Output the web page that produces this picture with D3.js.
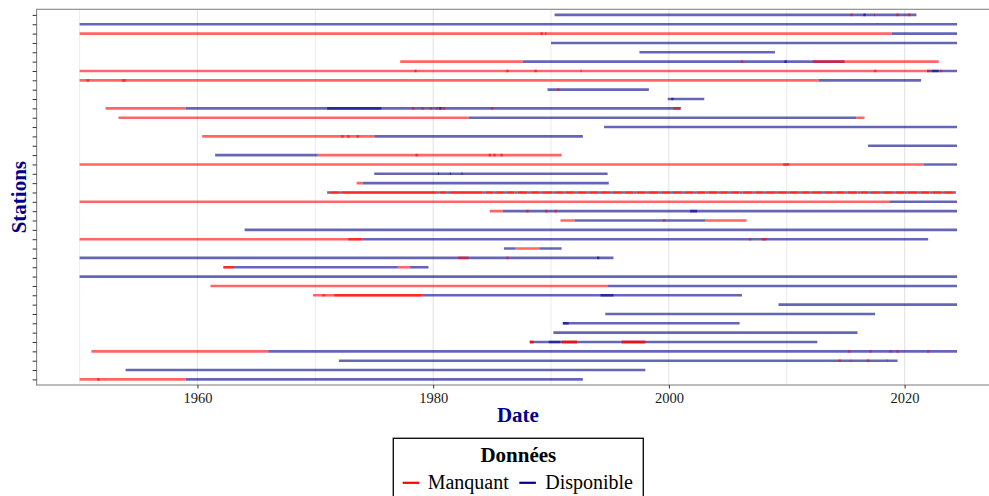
<!DOCTYPE html>
<html>
<head>
<meta charset="utf-8">
<script src="https://cdn.jsdelivr.net/npm/d3@7"></script>
<style>
  html, body { margin: 0; padding: 0; background: #fff; }
  svg { display: block; }
  text { font-family: "Liberation Serif", "Times New Roman", serif; }
</style>
</head>
<body>
<svg id="chart" width="989" height="496"></svg>
<script>
// Stations (top to bottom)
const stations = ["ST01","ST02","ST03","ST04","ST05","ST06","ST07","ST08","ST09","ST10",
                  "ST11","ST12","ST13","ST14","ST15","ST16","ST17","ST18","ST19","ST20",
                  "ST21","ST22","ST23","ST24","ST25","ST26","ST27","ST28","ST29","ST30",
                  "ST31","ST32","ST33","ST34","ST35","ST36","ST37","ST38","ST39","ST40"];

// Periods with data available: [station number, start year, end year]
const disponible = [
  [1, 1990.3, 2021.0], [1, 2016.5, 2016.7],
  [2, 1950.0, 2024.45],
  [3, 2018.9, 2024.45],
  [4, 1990.0, 2024.45],
  [5, 1997.5, 2009.0],
  [6, 1987.6, 2014.9], [6, 2009.8, 2010.0],
  [7, 2021.9, 2024.45], [7, 2022.3, 2022.9],
  [8, 2012.7, 2021.4],
  [9, 1989.7, 1998.3],
  [10, 1999.9, 2003.0], [10, 2000.2, 2000.4],
  [11, 1959.0, 2001.0], [11, 1971.0, 1975.6], [11, 1980.5, 1980.7],
  [12, 1983.0, 2015.9],
  [13, 1994.5, 2024.45],
  [14, 1975.0, 1992.7],
  [15, 2016.9, 2024.45],
  [16, 1961.5, 1970.2],
  [17, 2021.6, 2024.45],
  [18, 1975.0, 1994.8], [18, 1980.4, 1980.5], [18, 1981.4, 1981.5], [18, 1982.4, 1982.5],
  [19, 1974.0, 1994.9],
  [21, 2018.7, 2024.45],
  [22, 1985.9, 2024.45], [22, 2001.8, 2002.4],
  [23, 1992.0, 2003.1],
  [24, 1964.0, 2024.45],
  [25, 1974.0, 2022.0],
  [26, 1986.0, 1987.0], [26, 1989.0, 1990.9],
  [27, 1950.0, 1995.3], [27, 1993.9, 1994.1],
  [28, 1963.1, 1977.0], [28, 1978.0, 1979.6],
  [29, 1950.0, 2024.45],
  [30, 1994.8, 2024.45],
  [31, 1979.1, 2006.2], [31, 1994.2, 1995.3],
  [32, 2009.3, 2024.45],
  [33, 1994.6, 2017.5],
  [34, 1991.0, 2006.0], [34, 1991.0, 1991.5],
  [35, 1990.2, 2016.0],
  [36, 1988.2, 2012.6], [36, 1989.8, 1990.8],
  [37, 1966.0, 2024.45],
  [38, 1972.0, 2019.4],
  [39, 1953.9, 1998.0],
  [40, 1959.0, 1992.7]
];

// Periods with missing data: [station number, start year, end year]
const manquant = [
  [1, 2015.4, 2015.6], [1, 2017.4, 2017.5], [1, 2019.3, 2019.5], [1, 2020.3, 2020.5],
  [3, 1950.0, 2018.9], [3, 1989.1, 1989.3], [3, 1989.5, 1989.6],
  [6, 1977.2, 1987.6], [6, 2006.1, 2006.3], [6, 2012.2, 2022.9],
  [7, 1950.0, 2021.9], [7, 1978.4, 1978.6], [7, 1986.2, 1986.4], [7, 1988.6, 1988.8],
  [7, 1992.5, 1992.6], [7, 2017.4, 2017.6], [7, 2021.9, 2022.2], [7, 2023.0, 2023.2],
  [8, 1950.0, 2012.7], [8, 1950.6, 1950.8], [8, 1953.6, 1953.9],
  [9, 1990.5, 1990.7],
  [11, 1952.2, 1959.0], [11, 1978.2, 1978.4], [11, 1979.0, 1979.2], [11, 1979.7, 1979.9],
  [11, 1980.2, 1980.4], [11, 1980.8, 1981.0], [11, 1984.9, 1985.1], [11, 2000.4, 2001.0],
  [12, 1953.3, 1983.0], [12, 2015.9, 2016.6],
  [14, 1960.4, 1975.0], [14, 1972.2, 1972.4], [14, 1972.7, 1972.9], [14, 1973.5, 1973.7],
  [16, 1970.2, 1990.9], [16, 1978.5, 1978.7], [16, 1984.7, 1984.9], [16, 1985.1, 1985.3], [16, 1985.7, 1985.9],
  [17, 1950.0, 2021.6], [17, 2009.7, 2010.2],
  [19, 1973.5, 1974.0],
  [21, 1950.0, 2018.7],
  [22, 1984.8, 1985.9], [22, 1987.9, 1988.1], [22, 1989.5, 1989.7], [22, 1990.3, 1990.5],
  [23, 1990.8, 1992.0], [23, 1999.5, 1999.7], [23, 2003.1, 2006.6],
  [25, 1950.0, 1974.0], [25, 1972.8, 1974.0], [25, 2006.8, 2007.0], [25, 2007.9, 2008.3],
  [26, 1987.0, 1989.0],
  [27, 1982.1, 1983.0], [27, 1986.2, 1986.4],
  [28, 1962.2, 1963.1], [28, 1962.2, 1963.1], [28, 1977.0, 1978.0],
  [30, 1961.1, 1994.8],
  [31, 1969.8, 1979.1], [31, 1970.6, 1970.8], [31, 1971.6, 1979.1],
  [36, 1988.2, 1988.5], [36, 1988.2, 1988.5], [36, 1990.9, 1992.2], [36, 1990.9, 1992.2],
  [36, 1996.0, 1998.0], [36, 1996.0, 1998.0],
  [37, 1951.0, 1966.0], [37, 2015.2, 2015.4], [37, 2017.0, 2017.2], [37, 2018.7, 2018.9],
  [37, 2019.3, 2019.5], [37, 2021.9, 2022.1],
  [38, 2014.4, 2014.6], [38, 2015.4, 2015.5], [38, 2016.8, 2017.0], [38, 2018.5, 2018.6],
  [40, 1950.0, 1959.0], [40, 1951.5, 1951.7]
];

// Station 20: short yearly available windows (start years) inside a doubly-recorded missing series
const st20Station = 20;
const st20Windows = [1971.0, 1972.0, 1980.3, 1981.1, 1984.2, 1985.1, 1986.0, 1986.9, 1988.0,
  1989.0, 1990.1, 1991.0, 1992.0, 1993.0, 1994.0, 1995.0, 1996.0, 1997.0, 1998.0, 1999.1,
  2000.1, 2001.1, 2002.1, 2003.1, 2004.1, 2005.0, 2006.0, 2007.1, 2008.0, 2009.0, 2010.0,
  2011.0, 2011.9, 2013.0, 2013.9, 2014.9, 2016.0, 2016.9, 2017.9, 2019.0, 2020.0, 2021.1,
  2022.1, 2023.1, 2024.1];
const st20WindowLength = 0.25;
const st20Recordings = 2;

const xTicks = [1960, 1980, 2000, 2020];
const xMinorTicks = [1950, 1970, 1990, 2010];
const legendLabels = ["Manquant", "Disponible"];

// Build station 20 pieces from its windows
const st20Dispo = st20Windows.map(w => [st20Station, w, w + st20WindowLength]);
const st20Manq = [];
for (let i = 0; i < st20Windows.length - 1; i++) {
  for (let k = 0; k < st20Recordings; k++) {
    st20Manq.push([st20Station, st20Windows[i] + st20WindowLength, st20Windows[i + 1]]);
  }
}

const colors = { Manquant: "#ff0000", Disponible: "#00008b" };

const svg = d3.select("#chart");
svg.append("rect").attr("width", 989).attr("height", 496).attr("fill", "#fff");

const panel = { left: 36.6, top: 9.3, right: 1001.25, bottom: 385 };

const x = d3.scaleLinear().domain([1946.35, 2028.2]).range([panel.left, panel.right]);
const y = d3.scalePoint().domain(stations).range([panel.top, panel.bottom]).padding(0.6);

svg.append("clipPath").attr("id", "panelClip")
  .append("rect")
  .attr("x", panel.left).attr("y", panel.top)
  .attr("width", panel.right - panel.left).attr("height", panel.bottom - panel.top);

// vertical grid
const grid = svg.append("g");
grid.selectAll("line.minor").data(xMinorTicks).join("line")
  .attr("class", "minor")
  .attr("x1", d => x(d)).attr("x2", d => x(d))
  .attr("y1", panel.top).attr("y2", panel.bottom)
  .attr("stroke", "#ececec").attr("stroke-width", 1);
grid.selectAll("line.major").data(xTicks).join("line")
  .attr("class", "major")
  .attr("x1", d => x(d)).attr("x2", d => x(d))
  .attr("y1", panel.top).attr("y2", panel.bottom)
  .attr("stroke", "#e6e6e6").attr("stroke-width", 1.2);

// segments
const marks = svg.append("g").attr("clip-path", "url(#panelClip)");
function drawSegments(data, status) {
  marks.append("g").selectAll("line").data(data).join("line")
    .attr("x1", d => x(d[1])).attr("x2", d => x(d[2]))
    .attr("y1", d => y(stations[d[0] - 1])).attr("y2", d => y(stations[d[0] - 1]))
    .attr("stroke", colors[status])
    .attr("stroke-opacity", 0.6)
    .attr("stroke-width", 2.6);
}
drawSegments(disponible.concat(st20Dispo), "Disponible");
drawSegments(manquant.concat(st20Manq), "Manquant");

// panel border
svg.append("rect")
  .attr("x", panel.left).attr("y", panel.top)
  .attr("width", panel.right - panel.left).attr("height", panel.bottom - panel.top)
  .attr("fill", "none").attr("stroke", "#858585").attr("stroke-width", 1.1);

// x axis
const xAxis = svg.append("g")
  .attr("transform", `translate(0,${panel.bottom})`)
  .call(d3.axisBottom(x).tickValues(xTicks).tickFormat(d3.format("d")).tickSize(3.5).tickPadding(4));
xAxis.select(".domain").remove();
xAxis.selectAll(".tick line").attr("stroke", "#333");
xAxis.selectAll(".tick text")
  .attr("font-family", "Liberation Serif").attr("font-size", 14.5).attr("fill", "#1a1a1a");

// y axis (ticks only)
const yAxis = svg.append("g")
  .attr("transform", `translate(${panel.left},0)`)
  .call(d3.axisLeft(y).tickFormat("").tickSize(4));
yAxis.select(".domain").remove();
yAxis.selectAll(".tick line").attr("stroke", "#333");

// axis titles
svg.append("text")
  .attr("x", (panel.left + panel.right) / 2 - 1).attr("y", 422)
  .attr("text-anchor", "middle")
  .attr("font-size", 21).attr("font-weight", "bold").attr("fill", "#00008b")
  .text("Date");
svg.append("text")
  .attr("transform", `translate(26,${(panel.top + panel.bottom) / 2}) rotate(-90)`)
  .attr("text-anchor", "middle")
  .attr("font-size", 21).attr("font-weight", "bold").attr("fill", "#00008b")
  .text("Stations");

// legend
const legend = svg.append("g");
legend.append("rect")
  .attr("x", 393.3).attr("y", 438.3).attr("width", 250).attr("height", 80)
  .attr("fill", "#fff").attr("stroke", "#111").attr("stroke-width", 1.4);
legend.append("text")
  .attr("x", 518.3).attr("y", 461.5).attr("text-anchor", "middle")
  .attr("font-size", 21).attr("font-weight", "bold").attr("fill", "#000")
  .text("Données");
const keyX = [402.7, 519.3];
const labelX = [427.7, 545.2];
legendLabels.forEach((lab, i) => {
  legend.append("line")
    .attr("x1", keyX[i]).attr("x2", keyX[i] + 16.6)
    .attr("y1", 482.8).attr("y2", 482.8)
    .attr("stroke", colors[lab]).attr("stroke-width", 2.2);
  legend.append("text")
    .attr("x", labelX[i]).attr("y", 488.5)
    .attr("font-size", 20).attr("fill", "#000")
    .text(lab);
});
</script>
</body>
</html>
